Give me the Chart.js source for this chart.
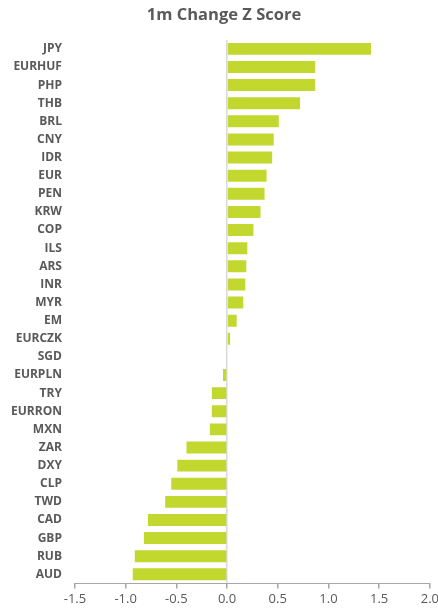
<!DOCTYPE html>
<html>
<head>
<meta charset="utf-8">
<script src="https://cdn.jsdelivr.net/npm/chart.js@4/dist/chart.umd.min.js"></script>
<style>
  html, body { margin: 0; padding: 0; background: #fff; overflow: hidden; }
  #wrap { position: relative; width: 442px; height: 611px; }
</style>
</head>
<body>
<div id="wrap"><canvas id="chart"></canvas></div>
<script>
// 1m change z-scores, top to bottom as in the picture
const currencies = ['JPY', 'EURHUF', 'PHP', 'THB', 'BRL', 'CNY', 'IDR', 'EUR', 'PEN', 'KRW',
  'COP', 'ILS', 'ARS', 'INR', 'MYR', 'EM', 'EURCZK', 'SGD', 'EURPLN', 'TRY',
  'EURRON', 'MXN', 'ZAR', 'DXY', 'CLP', 'TWD', 'CAD', 'GBP', 'RUB', 'AUD'];
const zScores = [1.42, 0.87, 0.87, 0.72, 0.51, 0.46, 0.445, 0.39, 0.37, 0.33,
  0.26, 0.20, 0.19, 0.18, 0.16, 0.095, 0.03, 0.0, -0.04, -0.15,
  -0.15, -0.17, -0.40, -0.49, -0.55, -0.61, -0.78, -0.82, -0.91, -0.93];
const xTicks = [-1.5, -1.0, -0.5, 0.0, 0.5, 1.0, 1.5, 2.0];

const textGrey = '#595959';

const ctx = document.getElementById('chart').getContext('2d');
new Chart(ctx, {
  type: 'bar',
  data: {
    labels: currencies,
    datasets: [{
      data: zScores,
      backgroundColor: '#c2d82f',
      borderWidth: 0,
      barPercentage: 0.66,
      categoryPercentage: 1.0
    }]
  },
  options: {
    indexAxis: 'y',
    responsive: true,
    maintainAspectRatio: false,
    animation: false,
    layout: { padding: { left: 6, right: 0, top: 5, bottom: 1 } },
    plugins: {
      legend: { display: false },
      tooltip: { enabled: false },
      title: {
        display: true,
        text: '1m Change Z Score',
        color: textGrey,
        font: { family: 'Open Sans', size: 16.5, weight: 'bold' },
        padding: { top: 0, bottom: 15 }
      }
    },
    scales: {
      x: {
        min: -1.5,
        max: 2.0,
        afterBuildTicks: (axis) => { axis.ticks = xTicks.map(v => ({ value: v })); },
        ticks: {
          color: textGrey,
          font: { family: 'Open Sans', size: 13 },
          padding: 3,
          maxRotation: 0,
          callback: (v) => Number(v).toFixed(1)
        },
        grid: {
          color: (c) => (c.tick && c.tick.value === 0 ? '#d9d9d9' : 'rgba(0,0,0,0)'),
          lineWidth: 1.5,
          tickColor: '#a6a6a6',
          tickLength: 5
        },
        border: { display: true, color: '#a6a6a6' }
      },
      y: {
        ticks: {
          color: textGrey,
          font: { family: 'Open Sans', size: 12, weight: 'bold' },
          padding: 5,
          autoSkip: false
        },
        grid: { display: false },
        border: { display: false }
      }
    }
  }
});
</script>
</body>
</html>
